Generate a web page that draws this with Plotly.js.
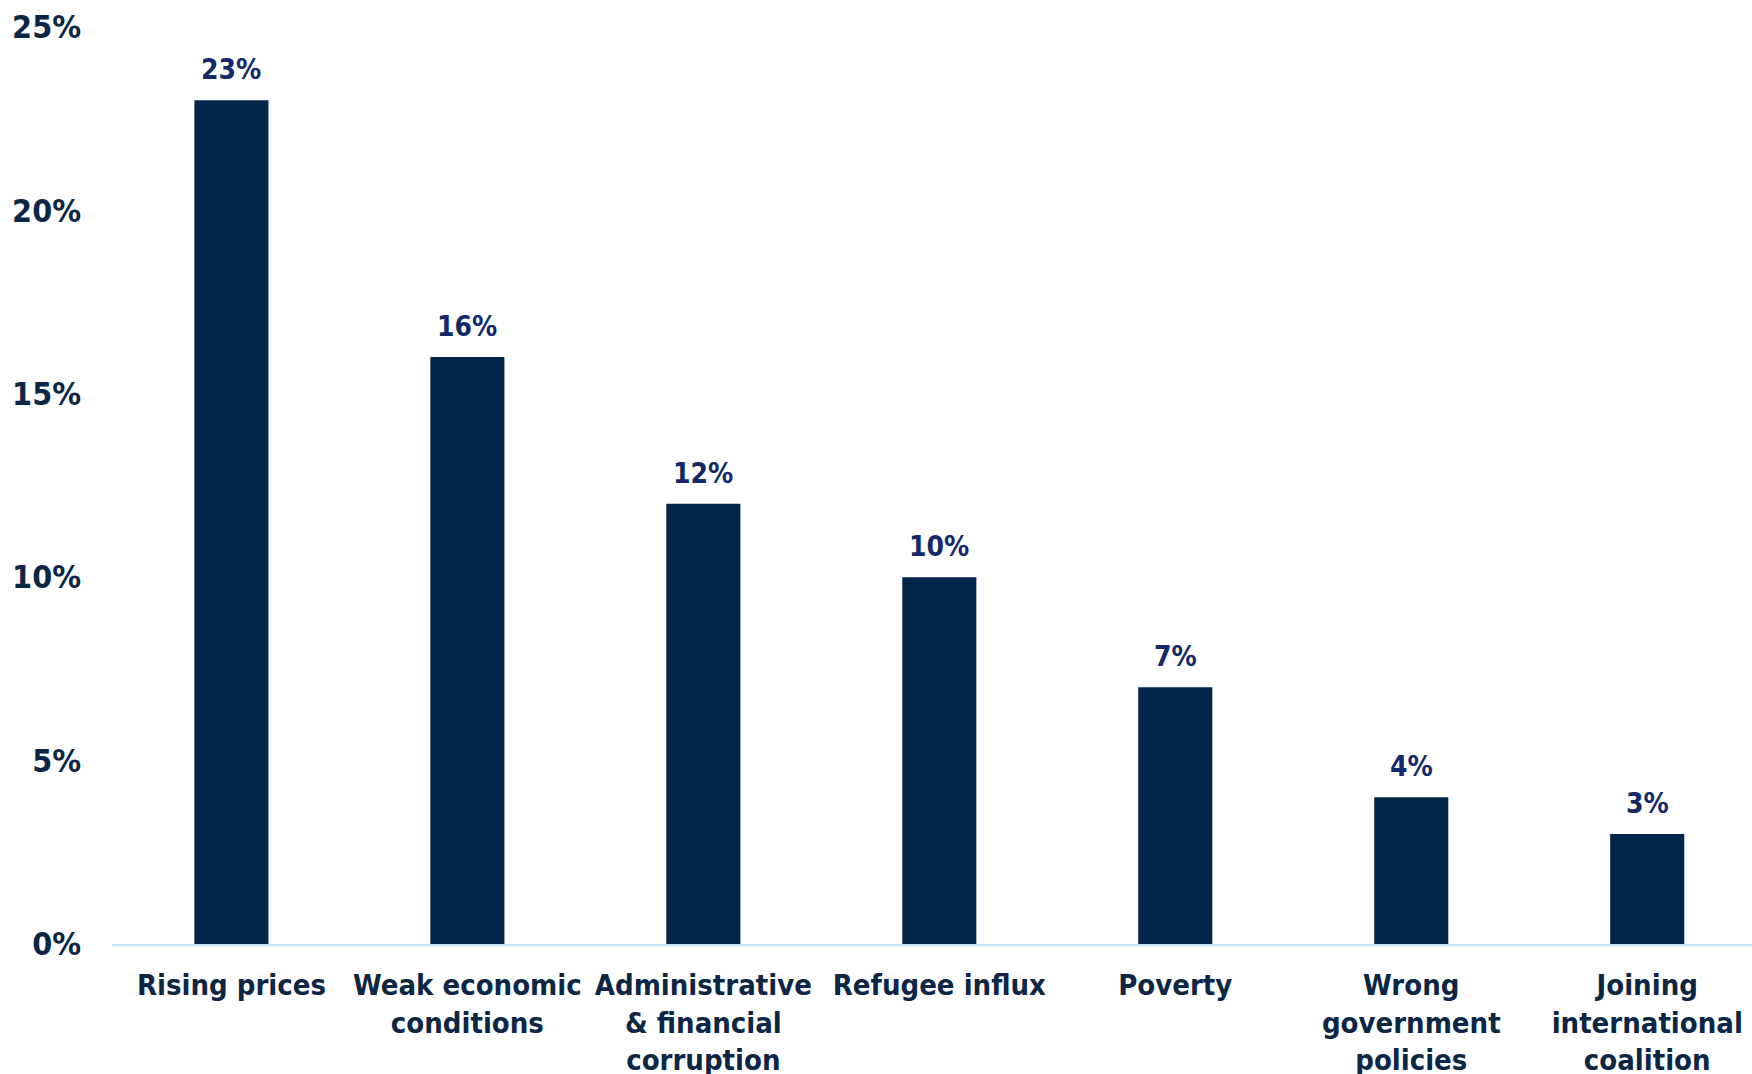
<!DOCTYPE html>
<html>
<head>
<meta charset="utf-8">
<script src="https://cdn.plot.ly/plotly-3.0.1.min.js"></script>
<style>html,body{margin:0;padding:0;background:#fff;}#chart{width:1752px;height:1074px;}</style>
</head>
<body>
<div id="chart"></div>
<script>
const categories = [
  "Rising prices",
  "Weak economic<br>conditions",
  "Administrative<br>& financial<br>corruption",
  "Refugee influx",
  "Poverty",
  "Wrong<br>government<br>policies",
  "Joining<br>international<br>coalition"
];
const values = [23, 16, 12, 10, 7, 4, 3];
const tickVals = [0, 5, 10, 15, 20, 25];
const tickLabels = ["0%", "5%", "10%", "15%", "20%", "25%"];

const FONT = "'DejaVu Sans Condensed', 'DejaVu Sans', 'Liberation Sans', sans-serif";

const trace = {
  type: "bar",
  x: categories,
  y: values,
  marker: { color: "#022649" },
  hoverinfo: "none"
};

const annotations = categories.map((c, i) => ({
  x: c,
  y: values[i],
  xref: "x",
  yref: "y",
  text: "<b>" + values[i] + "%</b>",
  showarrow: false,
  yanchor: "bottom",
  yshift: 12,
  font: { family: FONT, size: 28, color: "#13296a" }
}));

const layout = {
  width: 1752,
  height: 1074,
  margin: { l: 112, r: 0, t: 27, b: 130 },
  paper_bgcolor: "#ffffff",
  plot_bgcolor: "#ffffff",
  bargap: 0.686,
  showlegend: false,
  xaxis: {
    type: "category",
    range: [-0.506, 6.444],
    showline: true,
    linecolor: "#c6e0f7",
    linewidth: 2,
    showgrid: false,
    zeroline: false,
    ticks: "outside",
    ticklen: 14,
    tickcolor: "rgba(0,0,0,0)",
    tickangle: 0,
    tickfont: { family: FONT, size: 29, color: "#0c2646", weight: "bold" }
  },
  yaxis: {
    range: [0, 25],
    tickvals: tickVals,
    ticktext: tickLabels,
    showline: false,
    showgrid: false,
    zeroline: false,
    ticklabelstandoff: 30,
    tickfont: { family: FONT, size: 32, color: "#0c2646", weight: "bold" }
  },
  annotations: annotations
};

Plotly.newPlot("chart", [trace], layout, { displayModeBar: false, staticPlot: true });
</script>
</body>
</html>
